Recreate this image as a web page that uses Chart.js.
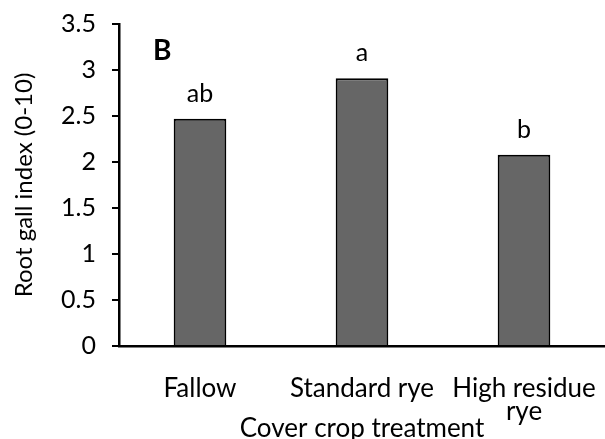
<!DOCTYPE html>
<html><head><meta charset="utf-8">
<script src="https://cdn.jsdelivr.net/npm/chart.js@4.4.1/dist/chart.umd.min.js"></script>
<style>html,body{margin:0;padding:0;background:#fff}#wrap{width:605px;height:439px}</style>
</head><body><div id="wrap"><canvas id="c" width="605" height="439"></canvas></div>
<script>
const categories = ['Fallow', 'Standard rye', ['High residue', 'rye']];
const gallIndex = [2.47, 2.91, 2.08];
const letters = ['ab', 'a', 'b'];
const yTickValues = [0, 0.5, 1, 1.5, 2, 2.5, 3, 3.5];
const panelLabel = 'B';
const xTitle = 'Cover crop treatment';
const yTitle = 'Root gall index (0-10)';

const FONT = 'Lato, "Open Sans", sans-serif';

const annotate = {
  id: 'annotate',
  afterDatasetsDraw(chart) {
    const ctx = chart.ctx;
    const meta = chart.getDatasetMeta(0);
    ctx.save();
    ctx.fillStyle = '#000';
    ctx.font = '25px ' + FONT;
    ctx.textAlign = 'center';
    ctx.textBaseline = 'alphabetic';
    meta.data.forEach((bar, i) => {
      ctx.fillText(letters[i], bar.x, bar.y - 17);
    });
    ctx.font = 'bold 28px ' + FONT;
    ctx.textAlign = 'left';
    const ca = chart.chartArea;
    ctx.fillText(panelLabel, ca.left + 34, ca.top + 36);
    ctx.restore();
  }
};

new Chart(document.getElementById('c'), {
  type: 'bar',
  data: {
    labels: categories,
    datasets: [{
      data: gallIndex,
      backgroundColor: '#666666',
      borderColor: '#000000',
      borderWidth: 2,
      barPercentage: 0.325,
      categoryPercentage: 1
    }]
  },
  options: {
    responsive: false,
    animation: false,
    devicePixelRatio: 1,
    layout: { padding: { top: 24, right: -4, bottom: 0, left: 0 } },
    plugins: { legend: { display: false }, tooltip: { enabled: false } },
    scales: {
      x: {
        grid: { display: false },
        border: { display: true, color: '#000', width: 2.5 },
        ticks: {
          color: '#000', padding: 24, maxRotation: 0, autoSkip: false,
          font: { family: FONT, size: 26, lineHeight: 0.85 }
        },
        title: {
          display: true, text: xTitle, color: '#000',
          font: { family: FONT, size: 26, lineHeight: 0.8 },
          padding: { top: 0, bottom: 0 }
        },
        afterFit(s) { s.height = 93; s.paddingLeft = 0; s.paddingRight = 0; }
      },
      y: {
        min: 0, max: 3.5,
        afterBuildTicks(s) { s.ticks = yTickValues.map(v => ({ value: v })); },
        grid: {
          drawOnChartArea: false, drawTicks: true, tickLength: 7,
          color: '#000', lineWidth: 2
        },
        border: { display: true, color: '#000', width: 2.5 },
        ticks: {
          color: '#000', padding: 16,
          font: { family: FONT, size: 25 },
          callback: v => String(v)
        },
        title: {
          display: true, text: yTitle, color: '#000',
          font: { family: FONT, size: 24 },
          padding: { top: 10, bottom: 0 }
        },
        afterFit(s) { s.width = 119; s.paddingTop = 0; s.paddingBottom = 0; }
      }
    }
  },
  plugins: [annotate]
});
</script>
</body></html>
